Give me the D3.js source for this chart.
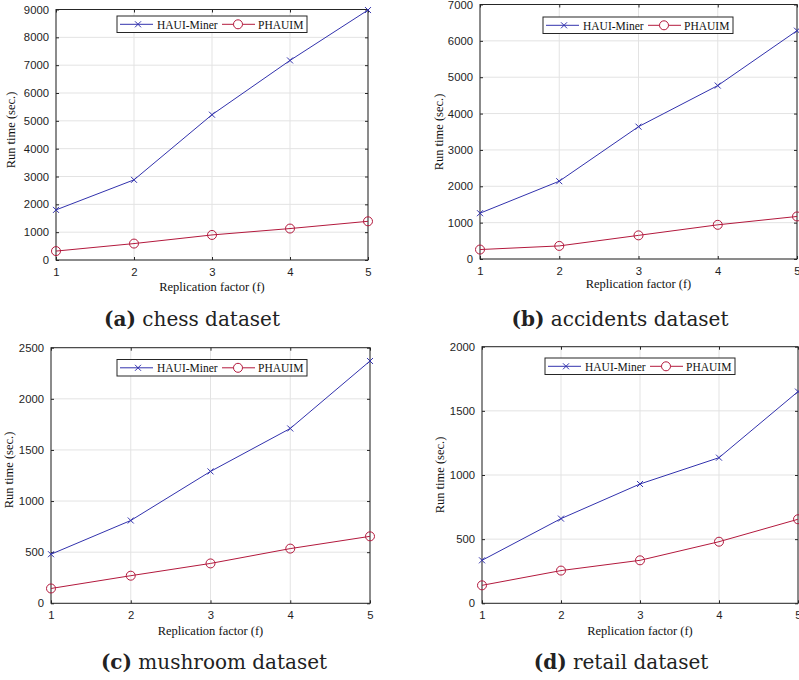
<!DOCTYPE html>
<html>
<head>
<meta charset="utf-8">
<script src="https://cdn.jsdelivr.net/npm/d3@7"></script>
<style>
  body { margin: 0; background: #fff; }
  svg { display: block; }
</style>
</head>
<body>
<div class="chartArea"></div>
<script>
// data
const factors = [1, 2, 3, 4, 5];
const seriesNames = ["HAUI-Miner", "PHAUIM"];

const chessHaui = [1800, 2880, 5220, 7170, 8980];
const chessPhauim = [320, 590, 900, 1130, 1390];
const accidentsHaui = [1260, 2140, 3640, 4770, 6280];
const accidentsPhauim = [260, 360, 650, 940, 1170];
const mushroomHaui = [480, 810, 1290, 1710, 2370];
const mushroomPhauim = [145, 270, 390, 535, 655];
const retailHaui = [335, 660, 930, 1135, 1650];
const retailPhauim = [140, 255, 335, 480, 655];

const chessTicks = [0, 1000, 2000, 3000, 4000, 5000, 6000, 7000, 8000, 9000];
const accidentsTicks = [0, 1000, 2000, 3000, 4000, 5000, 6000, 7000];
const mushroomTicks = [0, 500, 1000, 1500, 2000, 2500];
const retailTicks = [0, 500, 1000, 1500, 2000];

const captionLetters = ["(a)", "(b)", "(c)", "(d)"];
const captionNames = ["chess dataset", "accidents dataset", "mushroom dataset", "retail dataset"];

const xLabel = "Replication factor (f)";
const yLabel = "Run time (sec.)";

// layout of the four panels (pixels)
const panels = [
    {haui: chessHaui, phauim: chessPhauim, ticks: chessTicks,
     l: 56, r: 368, t: 9.5, b: 260, legX: 117, legY: 16, capX: 192, capY: 326, xlY: 291, ylX: 15, ylY: 130},
    {haui: accidentsHaui, phauim: accidentsPhauim, ticks: accidentsTicks,
     l: 480, r: 797, t: 4.5, b: 259, legX: 543, legY: 17, capX: 620, capY: 326, xlY: 288, ylX: 443, ylY: 132},
    {haui: mushroomHaui, phauim: mushroomPhauim, ticks: mushroomTicks,
     l: 51, r: 370, t: 347.7, b: 603.3, legX: 117, legY: 359.5, capX: 214, capY: 669, xlY: 635, ylX: 13, ylY: 470},
    {haui: retailHaui, phauim: retailPhauim, ticks: retailTicks,
     l: 482, r: 798, t: 346.7, b: 603.3, legX: 545, legY: 358, capX: 621, capY: 669, xlY: 635, ylX: 444, ylY: 475}
];

const width = 799;
const height = 680;
const blue = "#3232ad";
const red = "#b3193d";
const axisColor = "#262626";

const svg = d3.select(".chartArea")
    .append("svg")
    .attr("width", width)
    .attr("height", height);

function xMarker(g, x, y) {
    const s = 3;
    g.append("path")
        .attr("d", `M${x - s},${y - s}L${x + s},${y + s}M${x - s},${y + s}L${x + s},${y - s}`)
        .attr("stroke", blue)
        .attr("stroke-width", 1)
        .attr("fill", "none");
}

panels.forEach(function(p, i) {
    const g = svg.append("g");

    const xScale = d3.scaleLinear()
        .domain([d3.min(factors), d3.max(factors)])
        .range([p.l, p.r]);

    const yScale = d3.scaleLinear()
        .domain([0, d3.max(p.ticks)])
        .range([p.b, p.t]);

    // grid
    g.selectAll(".vgrid")
        .data(factors)
        .enter()
        .append("line")
        .attr("x1", d => xScale(d)).attr("x2", d => xScale(d))
        .attr("y1", p.t).attr("y2", p.b)
        .attr("stroke", "#e3e3e3");

    g.selectAll(".hgrid")
        .data(p.ticks)
        .enter()
        .append("line")
        .attr("x1", p.l).attr("x2", p.r)
        .attr("y1", d => yScale(d)).attr("y2", d => yScale(d))
        .attr("stroke", "#e3e3e3");

    // axes, ticks pointing inward
    const xAxis = d3.axisBottom(xScale).tickValues(factors).tickFormat(d3.format("d"))
        .tickSizeInner(-3).tickSizeOuter(0).tickPadding(8);
    const yAxis = d3.axisLeft(yScale).tickValues(p.ticks).tickFormat(d3.format("d"))
        .tickSizeInner(-3).tickSizeOuter(0).tickPadding(7);
    const xTop = d3.axisTop(xScale).tickValues(factors).tickFormat("")
        .tickSizeInner(-3).tickSizeOuter(0);
    const yRight = d3.axisRight(yScale).tickValues(p.ticks).tickFormat("")
        .tickSizeInner(-3).tickSizeOuter(0);

    const axes = [
        [xAxis, `translate(0,${p.b})`],
        [yAxis, `translate(${p.l},0)`],
        [xTop, `translate(0,${p.t})`],
        [yRight, `translate(${p.r},0)`]
    ];
    axes.forEach(function(a) {
        const ag = g.append("g").attr("transform", a[1]).call(a[0]);
        ag.select(".domain").remove();
        ag.selectAll("line").attr("stroke", axisColor);
        ag.selectAll("text")
            .attr("fill", "#1e1e1e")
            .style("font-family", "'Liberation Sans', Arial, sans-serif")
            .style("font-size", "11.3px");
    });

    g.append("rect")
        .attr("x", p.l).attr("y", p.t)
        .attr("width", p.r - p.l).attr("height", p.b - p.t)
        .attr("fill", "none")
        .attr("stroke", axisColor)
        .attr("stroke-width", 1);

    // lines
    const line = d3.line()
        .x((d, k) => xScale(factors[k]))
        .y(d => yScale(d));

    g.append("path")
        .datum(p.haui)
        .attr("d", line)
        .attr("fill", "none")
        .attr("stroke", blue)
        .attr("stroke-width", 1);

    g.append("path")
        .datum(p.phauim)
        .attr("d", line)
        .attr("fill", "none")
        .attr("stroke", red)
        .attr("stroke-width", 1);

    p.haui.forEach((d, k) => xMarker(g, xScale(factors[k]), yScale(d)));

    g.selectAll(".circ")
        .data(p.phauim)
        .enter()
        .append("circle")
        .attr("cx", (d, k) => xScale(factors[k]))
        .attr("cy", d => yScale(d))
        .attr("r", 4.5)
        .attr("fill", "none")
        .attr("stroke", red)
        .attr("stroke-width", 1);

    // legend
    const lg = g.append("g").attr("transform", `translate(${p.legX},${p.legY})`);
    lg.append("rect")
        .attr("x", 0).attr("y", 0)
        .attr("width", 190).attr("height", 16.5)
        .attr("fill", "#fff")
        .attr("stroke", axisColor)
        .attr("stroke-width", 1);
    lg.append("line").attr("x1", 3).attr("x2", 36).attr("y1", 8.3).attr("y2", 8.3)
        .attr("stroke", blue);
    xMarker(lg, 21, 8.3);
    lg.append("text").attr("x", 40).attr("y", 12.5).text(seriesNames[0]);
    lg.append("line").attr("x1", 105).attr("x2", 138).attr("y1", 8.3).attr("y2", 8.3)
        .attr("stroke", red);
    lg.append("circle").attr("cx", 121).attr("cy", 8.3).attr("r", 4.5)
        .attr("fill", "#fff").attr("stroke", red);
    lg.append("text").attr("x", 141).attr("y", 12.5).text(seriesNames[1]);
    lg.selectAll("text")
        .attr("fill", "#111")
        .style("font-family", "'Liberation Serif', 'Times New Roman', serif")
        .style("font-size", "11.5px");

    // axis labels
    g.append("text")
        .attr("x", (p.l + p.r) / 2)
        .attr("y", p.xlY)
        .attr("text-anchor", "middle")
        .attr("fill", "#111")
        .style("font-family", "'Liberation Serif', 'Times New Roman', serif")
        .style("font-size", "12.5px")
        .text(xLabel);

    g.append("text")
        .attr("transform", `translate(${p.ylX},${p.ylY}) rotate(-90)`)
        .attr("text-anchor", "middle")
        .attr("fill", "#111")
        .style("font-family", "'Liberation Serif', 'Times New Roman', serif")
        .style("font-size", "12.5px")
        .text(yLabel);

    // caption
    const cap = g.append("text")
        .attr("x", p.capX)
        .attr("y", p.capY)
        .attr("text-anchor", "middle")
        .attr("fill", "#222")
        .style("font-family", "'DejaVu Serif', serif")
        .style("font-size", "20px");
    cap.append("tspan").style("font-weight", "bold").text(captionLetters[i]);
    cap.append("tspan").text(" " + captionNames[i]);
});
</script>
</body>
</html>
